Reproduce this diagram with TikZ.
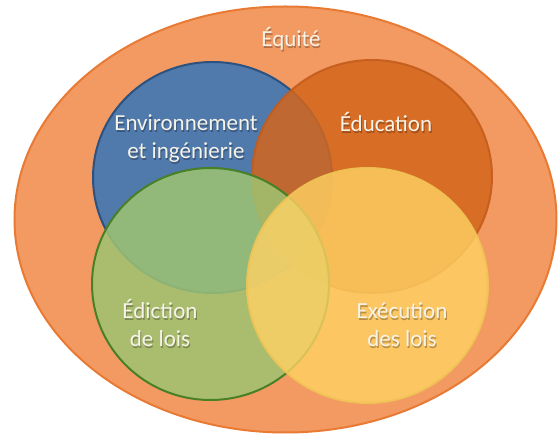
\documentclass[tikz,border=0pt]{standalone}
\usepackage{fontspec}
\setmainfont{Carlito}
\definecolor{outerfill}{RGB}{242,154,98}
\definecolor{outerline}{RGB}{232,122,52}
\definecolor{bluefill}{RGB}{80,121,172}
\definecolor{blueline}{RGB}{44,82,128}
\definecolor{orangefill}{RGB}{212,102,28}
\definecolor{orangeline}{RGB}{196,92,28}
\definecolor{greenfill}{RGB}{158,196,114}
\definecolor{greenline}{RGB}{72,128,38}
\definecolor{yellowfill}{RGB}{255,210,100}
\definecolor{yellowline}{RGB}{240,196,84}
\definecolor{labelcol}{RGB}{246,243,232}
\tikzset{
  lbl/.style={anchor=base, text=labelcol, font=\fontsize{23}{28}\selectfont, inner sep=0pt},
  lblshadow/.style={anchor=base, text=black, text opacity=0.28, font=\fontsize{23}{28}\selectfont, inner sep=0pt},
  region/.style={line width=2pt}
}
\begin{document}
\begin{tikzpicture}[x=1pt,y=-1pt]
\useasboundingbox (0,0) rectangle (558,438);
\fill[white] (0,0) rectangle (558,438);
% outer ellipse
\draw[region, fill=outerfill, draw=outerline] (285.5,219.5) ellipse [x radius=271, y radius=213];
% blue
\draw[region, fill=bluefill, draw=blueline] (212.5,177.5) ellipse [x radius=119.5, y radius=115.5];
% orange
\draw[region, fill=orangefill, fill opacity=0.85, draw=orangeline, draw opacity=0.9] (372,176.5) ellipse [x radius=120, y radius=116.5];
% green
\draw[region, fill=greenfill, fill opacity=0.85, draw=greenline] (210.5,284) ellipse [x radius=118.5, y radius=116];
% yellow
\draw[region, fill=yellowfill, fill opacity=0.8, draw=yellowline, draw opacity=0.9] (367.5,285.5) ellipse [x radius=120.5, y radius=117.5];
% labels: shadows
\node[lblshadow] (s0) at (292,48.5) {Équité};
\node[lblshadow] (s1) at (187,132.5) {Environnement};
\node[lblshadow] (s2) at (187,160.5) {et ingénierie};
\node[lblshadow] (s3) at (387,133.5) {Éducation};
\node[lblshadow] (s4) at (161,320.5) {Édiction};
\node[lblshadow] (s5) at (161,348.5) {de lois};
\node[lblshadow] (s6) at (403,320.5) {Exécution};
\node[lblshadow] (s7) at (403,348.5) {des lois};
% labels
\node[lbl] (equite) at (291,47) {Équité};
\node[lbl] (env1) at (186,131) {Environnement};
\node[lbl] (env2) at (186,159) {et ingénierie};
\node[lbl] (educ) at (386,132) {Éducation};
\node[lbl] (edic1) at (160,319) {Édiction};
\node[lbl] (edic2) at (160,347) {de lois};
\node[lbl] (exec1) at (402,319) {Exécution};
\node[lbl] (exec2) at (402,347) {des lois};
\end{tikzpicture}
\end{document}
